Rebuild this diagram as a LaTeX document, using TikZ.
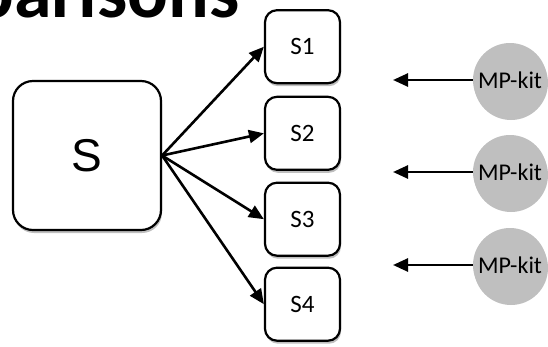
\documentclass[tikz,border=0pt]{standalone}
\usepackage{fontspec}
\setmainfont{Carlito}
\newfontfamily\arialfont{Liberation Sans}
\usetikzlibrary{arrows.meta,shadows}
\definecolor{kitgray}{RGB}{191,191,191}
\tikzset{
  myshadow/.style={drop shadow={shadow xshift=1pt, shadow yshift=-3pt, opacity=0.25, fill=black}},
  bigbox/.style={draw, line width=2.2pt, rounded corners=20pt, minimum width=148pt, minimum height=149pt, fill=white, myshadow, font=\arialfont\fontsize{46}{46}\selectfont},
  smallbox/.style={draw, line width=2.2pt, rounded corners=12pt, minimum width=75pt, minimum height=73pt, fill=white, myshadow, font=\fontsize{25}{25}\selectfont},
  kit/.style={circle, fill=kitgray, minimum size=74pt, inner sep=0pt, myshadow, font=\fontsize{24}{24}\selectfont},
  arr/.style={line width=2.6pt, -{Triangle[length=15pt,width=13pt]}},
  titlefont/.style={font=\fontsize{76}{76}\selectfont\bfseries}
}
\begin{document}
\begin{tikzpicture}[x=1pt,y=-1pt]
\useasboundingbox (0,0) rectangle (548,346);
\clip (0,0) rectangle (548,346);
\node[titlefont, anchor=base east, inner sep=0pt] (title) at (240,17) {parisons};
\node[bigbox] (S) at (87,155.5) {S};
\node[smallbox] (s1) at (302.5,46.7) {S1};
\node[smallbox] (s2) at (302.5,133.3) {S2};
\node[smallbox] (s3) at (302.5,219.2) {S3};
\node[smallbox] (s4) at (302.5,304.2) {S4};
\node[kit] (m1) at (510,80) {MP-kit};
\node[kit] (m2) at (510,172) {MP-kit};
\node[kit] (m3) at (510,265) {MP-kit};
\coordinate (c1) at (393,80);
\coordinate (c2) at (393,172);
\coordinate (c3) at (393,265);
\foreach \t in {s1,s2,s3,s4} \draw[arr] (S.east) -- (\t.west);
\draw[arr] (m1.west) -- (c1);
\draw[arr] (m2.west) -- (c2);
\draw[arr] (m3.west) -- (c3);
\end{tikzpicture}
\end{document}
